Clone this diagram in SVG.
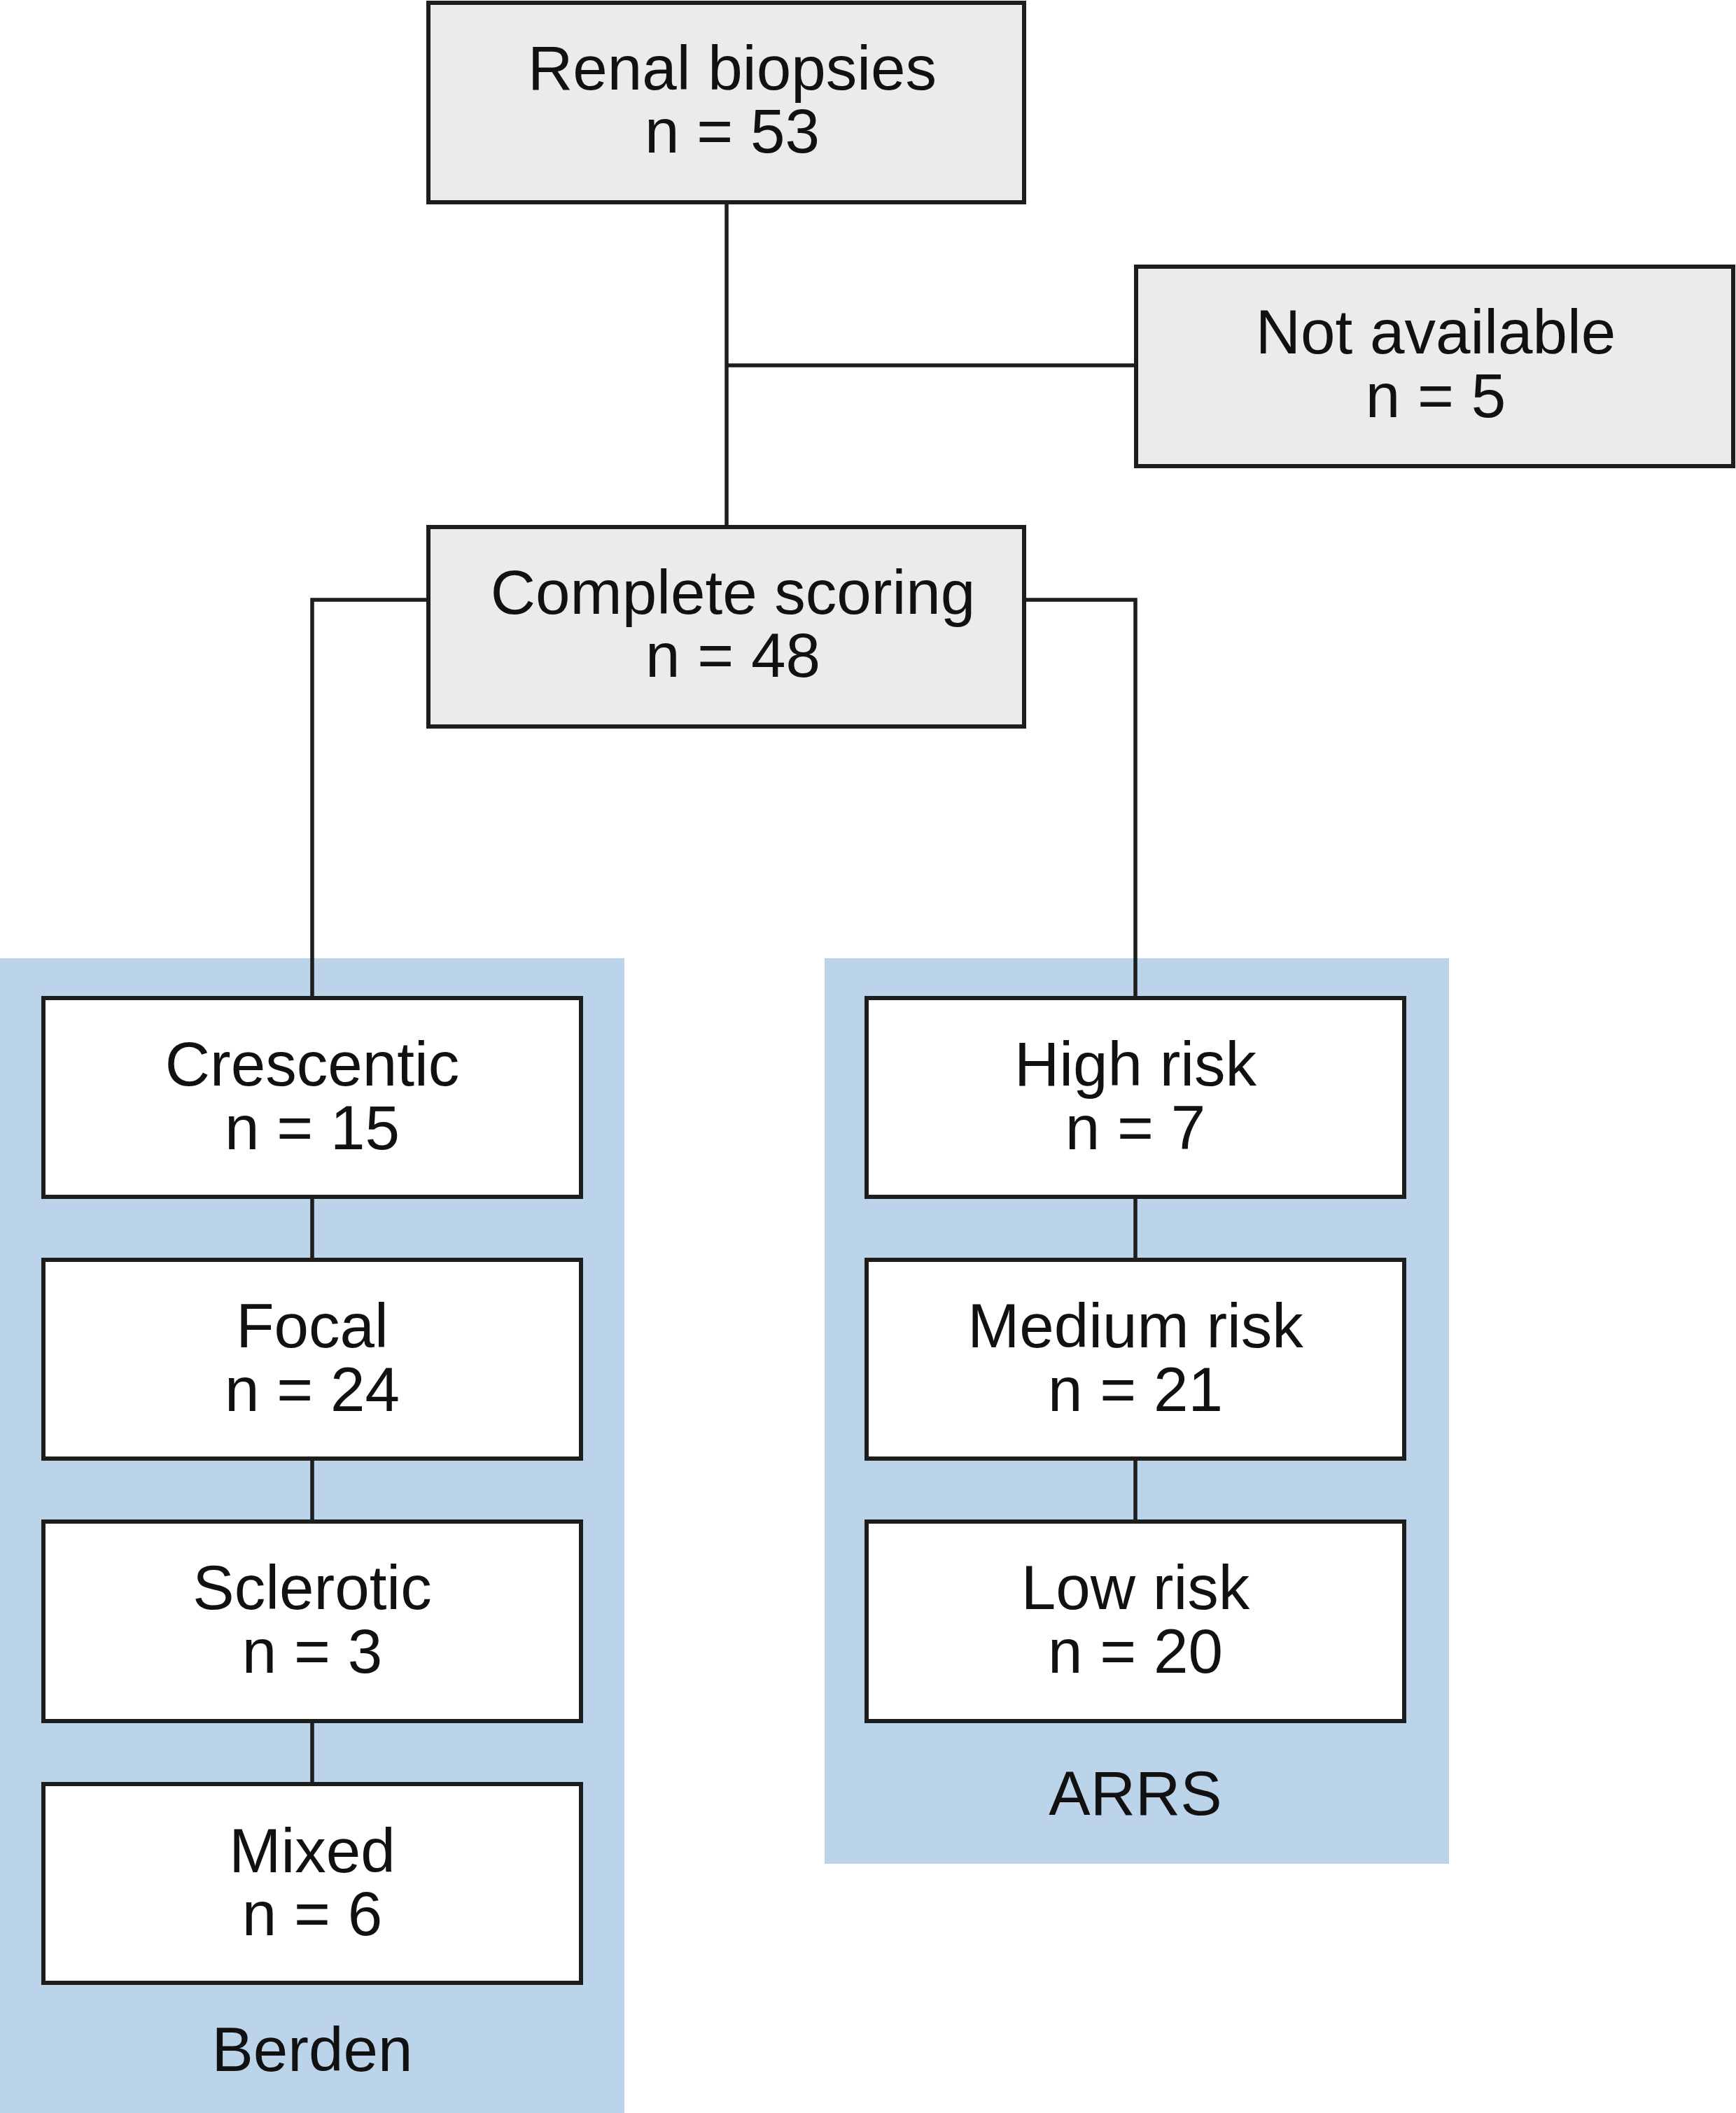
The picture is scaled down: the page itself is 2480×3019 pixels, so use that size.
<svg xmlns="http://www.w3.org/2000/svg" width="2480" height="3019" viewBox="0 0 2480 3019">
<style>
.box{stroke:#1d1d1b;stroke-width:6}
.grey{fill:#ebebeb}
.white{fill:#ffffff}
.panel{fill:#bcd4e9}
.conn{fill:none;stroke:#1d1d1b;stroke-width:5.5}
text{font-family:"Liberation Sans",Arial,sans-serif;font-size:89px;fill:#111;text-anchor:middle}
</style>
<rect width="2480" height="3019" fill="#ffffff"/>
<g id="panel-berden">
<rect class="panel" x="0" y="1369" width="892" height="1650"/>
<text x="446" y="2959">Berden</text>
</g>
<g id="panel-arrs">
<rect class="panel" x="1178" y="1369" width="892" height="1294"/>
<text x="1622" y="2593">ARRS</text>
</g>
<g id="connectors">
<path class="conn" d="M1038 289 V753"/>
<path class="conn" d="M1038 522 H1623"/>
<path class="conn" d="M612 857 H446 V1427"/>
<path class="conn" d="M1463 857 H1622 V1427"/>
<path class="conn" d="M446 1710 V1800"/>
<path class="conn" d="M446 2084 V2174"/>
<path class="conn" d="M446 2459 V2549"/>
<path class="conn" d="M1622 1710 V1800"/>
<path class="conn" d="M1622 2084 V2174"/>
</g>
<g id="renal">
<rect class="box grey" x="612" y="4" width="851" height="285"/>
<text x="1046" y="128">Renal biopsies</text>
<text x="1046" y="218">n = 53</text>
</g>
<g id="not-available">
<rect class="box grey" x="1623" y="381" width="853" height="285"/>
<text x="2051" y="505">Not available</text>
<text x="2051" y="596">n = 5</text>
</g>
<g id="complete">
<rect class="box grey" x="612" y="753" width="851" height="285"/>
<text x="1047" y="877">Complete scoring</text>
<text x="1047" y="967">n = 48</text>
</g>
<g id="crescentic">
<rect class="box white" x="62" y="1426" width="768" height="284"/>
<text x="446" y="1551">Crescentic</text>
<text x="446" y="1642">n = 15</text>
</g>
<g id="focal">
<rect class="box white" x="62" y="1800" width="768" height="284"/>
<text x="446" y="1925">Focal</text>
<text x="446" y="2016">n = 24</text>
</g>
<g id="sclerotic">
<rect class="box white" x="62" y="2174" width="768" height="285"/>
<text x="446" y="2299">Sclerotic</text>
<text x="446" y="2390">n = 3</text>
</g>
<g id="mixed">
<rect class="box white" x="62" y="2549" width="768" height="284"/>
<text x="446" y="2675">Mixed</text>
<text x="446" y="2765">n = 6</text>
</g>
<g id="high-risk">
<rect class="box white" x="1238" y="1426" width="768" height="284"/>
<text x="1622" y="1551">High risk</text>
<text x="1622" y="1642">n = 7</text>
</g>
<g id="medium-risk">
<rect class="box white" x="1238" y="1800" width="768" height="284"/>
<text x="1622" y="1925">Medium risk</text>
<text x="1622" y="2016">n = 21</text>
</g>
<g id="low-risk">
<rect class="box white" x="1238" y="2174" width="768" height="285"/>
<text x="1622" y="2299">Low risk</text>
<text x="1622" y="2390">n = 20</text>
</g>
</svg>
